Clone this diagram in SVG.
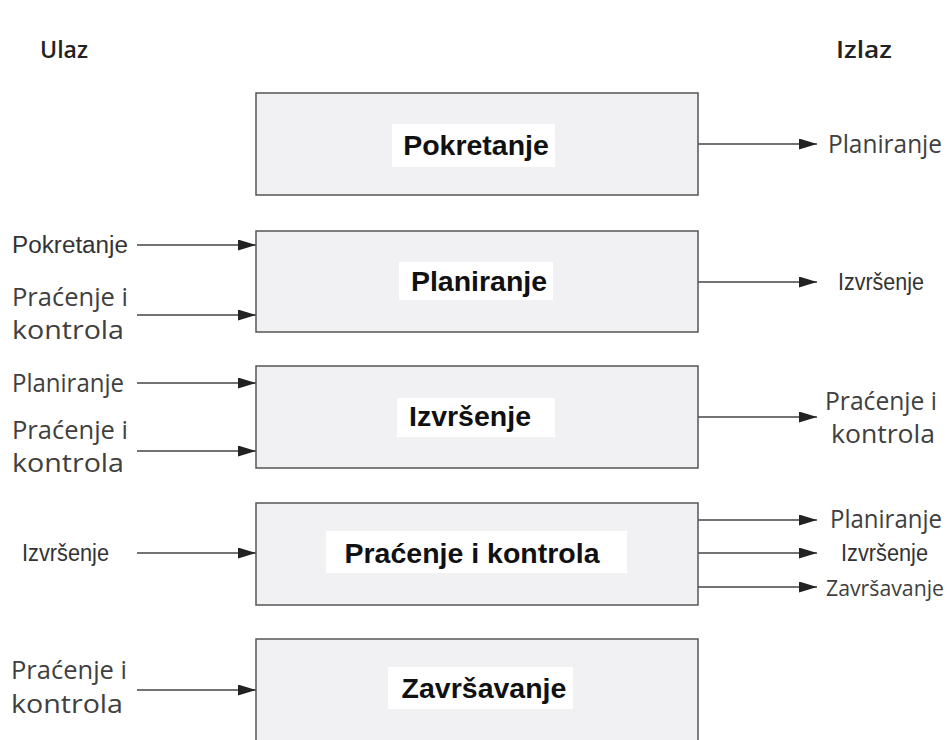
<svg xmlns="http://www.w3.org/2000/svg" width="951" height="740" viewBox="0 0 951 740">
<defs>
<style>
.box{fill:#f1f1f3;stroke:#555;stroke-width:1.5}
.lbg{fill:#ffffff}
.title{font-family:"Liberation Sans",Arial,sans-serif;font-weight:bold;font-size:28.5px;fill:#111;text-anchor:middle}
.side{font-family:"Open Sans",sans-serif;font-size:25px;fill:#404040}
.sans{font-family:"Liberation Sans",Arial,sans-serif;font-size:23px;fill:#333}
.head{font-family:"Open Sans",sans-serif;font-weight:600;font-size:23px;fill:#222}
.arr{stroke:#444;stroke-width:1.5;fill:none;marker-end:url(#ah)}
</style>
<marker id="ah" markerWidth="18" markerHeight="11" refX="18" refY="5.5" orient="auto" markerUnits="userSpaceOnUse">
<path d="M0,0 L18,5.5 L0,11 Z" fill="#222"/>
</marker>
</defs>
<rect width="951" height="740" fill="#ffffff"/>
<text class="head" x="40" y="58" textLength="48" lengthAdjust="spacingAndGlyphs">Ulaz</text>
<text class="head" x="836" y="58" textLength="56" lengthAdjust="spacingAndGlyphs">Izlaz</text>

<g id="connectors">
<line class="arr" x1="137" y1="245" x2="256" y2="245"/>
<line class="arr" x1="137" y1="315" x2="256" y2="315"/>
<line class="arr" x1="137" y1="383" x2="256" y2="383"/>
<line class="arr" x1="137" y1="451" x2="256" y2="451"/>
<line class="arr" x1="137" y1="553" x2="256" y2="553"/>
<line class="arr" x1="137" y1="690" x2="256" y2="690"/>
<line class="arr" x1="698" y1="144" x2="817" y2="144"/>
<line class="arr" x1="698" y1="282" x2="817" y2="282"/>
<line class="arr" x1="698" y1="417" x2="817" y2="417"/>
<line class="arr" x1="698" y1="520" x2="817" y2="520"/>
<line class="arr" x1="698" y1="553" x2="817" y2="553"/>
<line class="arr" x1="698" y1="587" x2="817" y2="587"/>
</g>

<g id="pokretanje">
<rect class="box" x="256" y="93" width="442" height="102"/>
<rect class="lbg" x="392" y="124" width="163" height="43"/>
<text class="title" x="476" y="155">Pokretanje</text>
</g>
<g id="planiranje">
<rect class="box" x="256" y="231" width="442" height="101"/>
<rect class="lbg" x="399" y="262" width="154" height="38"/>
<text class="title" x="479" y="291">Planiranje</text>
</g>
<g id="izvrsenje">
<rect class="box" x="256" y="366" width="442" height="102"/>
<rect class="lbg" x="397" y="398" width="158" height="39"/>
<text class="title" x="470" y="426">Izvršenje</text>
</g>
<g id="pracenje">
<rect class="box" x="256" y="503" width="442" height="102"/>
<rect class="lbg" x="326" y="531" width="301" height="42"/>
<text class="title" x="472" y="563">Praćenje i kontrola</text>
</g>
<g id="zavrsavanje">
<rect class="box" x="256" y="639" width="442" height="120"/>
<rect class="lbg" x="388" y="667" width="185" height="42"/>
<text class="title" x="484" y="698">Završavanje</text>
</g>

<g id="inputs">
<text class="sans" x="12" y="253" textLength="116" lengthAdjust="spacingAndGlyphs">Pokretanje</text>
<text class="side" x="12" y="306" textLength="116" lengthAdjust="spacingAndGlyphs">Praćenje i</text>
<text class="side" x="12" y="339" textLength="112" lengthAdjust="spacingAndGlyphs">kontrola</text>
<text class="side" x="12" y="392" textLength="112" lengthAdjust="spacingAndGlyphs">Planiranje</text>
<text class="side" x="12" y="439" textLength="116" lengthAdjust="spacingAndGlyphs">Praćenje i</text>
<text class="side" x="12" y="472" textLength="112" lengthAdjust="spacingAndGlyphs">kontrola</text>
<text class="sans" x="22" y="561" textLength="87" lengthAdjust="spacingAndGlyphs">Izvršenje</text>
<text class="side" x="11" y="679" textLength="116" lengthAdjust="spacingAndGlyphs">Praćenje i</text>
<text class="side" x="11" y="713" textLength="112" lengthAdjust="spacingAndGlyphs">kontrola</text>
</g>
<g id="outputs">
<text class="side" x="828" y="153" textLength="114" lengthAdjust="spacingAndGlyphs">Planiranje</text>
<text class="sans" x="838" y="290" textLength="86" lengthAdjust="spacingAndGlyphs">Izvršenje</text>
<text class="side" x="825" y="410" textLength="112" lengthAdjust="spacingAndGlyphs">Praćenje i</text>
<text class="side" x="831" y="443" textLength="104" lengthAdjust="spacingAndGlyphs">kontrola</text>
<text class="side" x="830" y="528" textLength="112" lengthAdjust="spacingAndGlyphs">Planiranje</text>
<text class="sans" x="841" y="561" textLength="87" lengthAdjust="spacingAndGlyphs">Izvršenje</text>
<text class="side" x="826" y="596" style="font-size:22px" textLength="118" lengthAdjust="spacingAndGlyphs">Završavanje</text>
</g>
</svg>
